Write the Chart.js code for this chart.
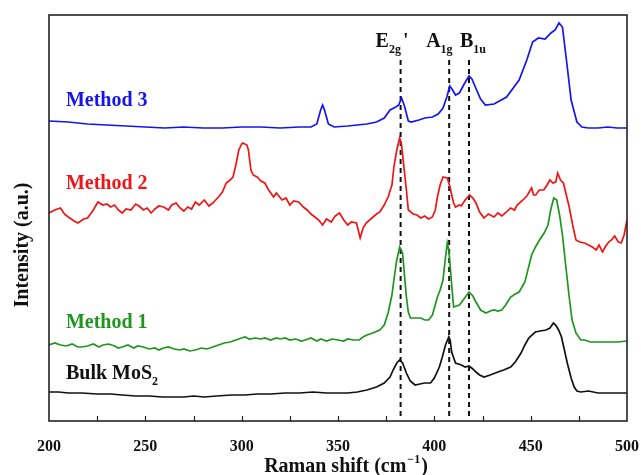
<!DOCTYPE html>
<html lang="en">
<head>
  <meta charset="UTF-8" />
  <title>Raman spectra</title>
  <script src="https://cdn.jsdelivr.net/npm/chart.js"></script>
  <style>
    body { margin: 0; background: #fff; }
    canvas { display: block; }
  </style>
</head>
<body>
  <canvas id="myChart" width="641" height="475"></canvas>

  <script>
    // Raman shift (cm-1) / intensity (a.u., offset stack)
    const bulkShift = [200,205,210,217,225,232,238,245,252,259,265,270,275,280.6,287,295,301.7,308,315,322.6,330,337,344,350,355,360,365,370,374,377,378.6,380.5,382,383.5,385.5,387.5,390,392.5,395,398,400,402.6,404,405.8,407.5,408.2,409,411,414,416,418,420,421.6,423.5,425.8,429,433,436,439.6,442,445,447,449,452.4,455,458,460,461.8,463,464.5,466,467.5,469,471,472.6,474,476,480,485,490,495,500];
    const bulkIntensity = [29,29,28,28,27,27,26,25,25,24,24,24,25,24,25,26,26,27,27,28,28,29,28,28,28,29,31,34,38,44,51,58,61,58,48,40,36,37,38,38,43,54,63,76,84,81,69,58,56,54,55,52,49,46,44,46,49,51,54,59,68,76,83,89,90,91,93,98,96,91,84,71,58,43,34,30,29,30,28,28,28,28];

    const m1Shift = [200,203,206,209,212,215,217,220,223,226,228,231,234,236,238,241,244,246,249,252,255,257,259.4,262,265,268,270,273,276,279,282,285,288,291,294,297,300,301.7,304,307,310,312,315,318,320,322.6,325,328,331,333,336,339,341,344,347,350,353,355,358,361,363,365,368,371.7,374,376,378,379,380.5,382,383.5,384.5,385.5,386.5,387.6,390,393,395,397,399,401.6,403,404.5,405.5,406.7,407.5,408.8,410,411.5,413,415,418,420,421.6,424,426.8,429,431,433,435,437,439.6,442,444,447,450.5,452.5,454.6,457,459,460.5,462,463.5,465,466.5,468,470,471.5,473.5,476,478,481,485,490,495,500];
    const m1Intensity = [76,78,76,75,77,74,74,75,77,74,76,77,75,73,74,76,73,75,74,72,73,71,73,74,72,71,72,70,71,73,72,74,76,78,79,81,83,84,82,83,82,83,81,83,82,83,81,82,80,81,83,80,82,80,82,81,80,82,81,81,84,86,88,91,96,108,126,141,161,174,168,146,124,109,103,103,103,101,101,106,124,131,141,159,178,171,141,114,115,116,121,129,125,119,111,108,110,111,110,111,116,124,127,129,139,166,174,181,188,196,212,223,221,206,186,159,124,101,88,81,81,79,79,79,79,80];

    const m2Shift = [200,203,206,208,210,213,215,218,220,223,225.4,228,230,232,234,236,238,240,242.5,245,246.7,249,251,253,255,257,259.5,262,263.7,266,268,270,272,274,276,278,280.6,283,285,287,288,290,292,294,295.5,297,298.5,300,300.6,302.7,303.5,304.8,306,308,310,312,314,316.6,318,321,323,325,327,329.6,332,334,336,338,340,342,344,346.5,348.5,350.8,353,355,357,359.6,361.5,363,364.6,367.6,370,371.7,374,376,378,379,380.5,382,383,384,385.5,386.5,389,391,393,395,397,399,400.5,401.6,403,404.5,406.7,408,408.8,410,411,413,414,416,418.3,420,421.6,423.5,425.8,428,431,433,435,437.5,439.5,441.6,443,446,448,450.5,451.5,452.6,454.5,456.8,458.5,460,461.5,463,464,465.5,467,468.5,470,471.8,473.5,475.5,478,480,482,484,485.5,487.3,489,490.5,492,493.6,495.5,497,498.5,500];
    const m2Intensity = [208,211,213,207,204,200,198,202,203,211,219,216,217,214,216,211,208,212,211,217,215,211,213,208,212,215,214,211,216,218,213,210,214,212,219,216,221,215,218,222,224,229,238,241,244,256,271,277,278,276,271,251,246,244,240,238,231,224,228,221,223,216,220,219,214,211,207,204,201,196,202,199,205,208,201,196,199,198,183,193,198,203,207,209,216,224,236,254,271,283,276,258,231,211,207,206,203,205,202,204,211,224,236,244,243,235,228,218,214,216,215,221,226,223,218,209,203,207,204,208,205,209,213,211,216,221,225,233,226,226,231,231,236,241,238,239,248,241,238,226,214,196,181,179,178,176,174,171,176,169,175,179,181,185,179,178,186,201];

    const m3Shift = [200,210,220,230,240,250,260,270,280,290,300,310,320,330,336,339,341,342,343,345,348,355,360,365,370,374,377,380,381.5,383,384.5,386.5,388,392,395,399,402,404.5,406.5,408,409.5,411,413,415.5,418,419.5,421.5,424,426.5,431,437.5,444,448,451,454,457.5,460.5,462.7,464.7,466.5,469,471,474,476.6,480,485,490,495,500];
    const m3Intensity = [300,299,297,296,295,294,293,294,293,293,294,294,293,294,294,297,311,316,311,297,294,295,296,297,299,303,311,314,316,323,315,300,299,301,303,304,307,313,324,335,331,326,328,337,345,342,333,322,316,317,324,341,361,379,383,382,388,391,398,394,354,321,299,294,293,293,294,293,293];

    const peakShift = [382.5, 407.7, 418];
    const peakNames = ['E', 'A', 'B'];
    const peakSubs = ['2g', '1g', '1u'];
    const seriesNames = ['Method 3', 'Method 2', 'Method 1', 'Bulk MoS'];
    const seriesColors = ['#1414f0', '#f01414', '#1e961e', '#111111'];
    const xTicks = [200, 250, 300, 350, 400, 450, 500];

    const serif = "'Liberation Serif', 'Times New Roman', serif";

    function pairs(xs, ys) {
      return xs.map((x, i) => ({ x: x, y: ys[i] }));
    }

    const spectra = [
      { data: pairs(m3Shift, m3Intensity), borderColor: seriesColors[0] },
      { data: pairs(m2Shift, m2Intensity), borderColor: seriesColors[1] },
      { data: pairs(m1Shift, m1Intensity), borderColor: seriesColors[2] },
      { data: pairs(bulkShift, bulkIntensity), borderColor: seriesColors[3] }
    ].map(d => Object.assign(d, { borderWidth: 1.7, pointRadius: 0, tension: 0, fill: false }));

    // vertical dashed lines at the peak positions
    const dashed = peakShift.map(p => ({
      data: [{ x: p, y: 5 }, { x: p, y: 363 }],
      borderColor: '#111',
      borderWidth: 2,
      borderDash: [5, 4],
      pointRadius: 0
    }));

    function drawSub(ctx, main, sub, x, y, size, prime) {
      ctx.font = 'bold ' + size + 'px ' + serif;
      ctx.fillText(main, x, y);
      let w = ctx.measureText(main).width;
      ctx.font = 'bold ' + Math.round(size * 0.6) + 'px ' + serif;
      ctx.fillText(sub, x + w, y + size * 0.32);
      let w2 = ctx.measureText(sub).width;
      if (prime) {
        ctx.font = 'bold ' + size + 'px ' + serif;
        ctx.fillText(prime, x + w + w2 + 2, y);
      }
    }

    const decor = {
      id: 'decor',
      afterDraw(chart) {
        const ctx = chart.ctx;
        const a = chart.chartArea;
        const xs = chart.scales.x, ys = chart.scales.y;
        ctx.save();

        // frame
        ctx.strokeStyle = '#222';
        ctx.lineWidth = 1.6;
        ctx.strokeRect(a.left, a.top, a.right - a.left, a.bottom - a.top);

        // inward ticks every 25
        ctx.lineWidth = 1.2;
        for (let v = 225; v < 500; v += 25) {
          const px = Math.round(xs.getPixelForValue(v)) + 0.5;
          ctx.beginPath();
          ctx.moveTo(px, a.bottom);
          ctx.lineTo(px, a.bottom - 5);
          ctx.stroke();
        }

        ctx.textBaseline = 'alphabetic';
        ctx.textAlign = 'left';

        // series labels
        const labelY = [321, 238, 99, 48];
        seriesNames.forEach((name, i) => {
          ctx.fillStyle = seriesColors[i];
          const x = xs.getPixelForValue(208.8);
          const y = ys.getPixelForValue(labelY[i]) + 6;
          if (i === 3) drawSub(ctx, name, '2', x, y, 20);
          else {
            ctx.font = 'bold 20px ' + serif;
            ctx.fillText(name, x, y);
          }
        });

        // peak labels
        ctx.fillStyle = '#111';
        const offs = [-25, -23, -9];
        peakShift.forEach((p, i) => {
          const x = xs.getPixelForValue(p) + offs[i];
          drawSub(ctx, peakNames[i], peakSubs[i], x, 47, 20, i === 0 ? "'" : null);
        });

        // y title
        ctx.save();
        ctx.translate(23, 245);
        ctx.rotate(-Math.PI / 2);
        ctx.textAlign = 'center';
        ctx.textBaseline = 'middle';
        ctx.font = 'bold 20px ' + serif;
        ctx.fillText('Intensity (a.u.)', 0, 0);
        ctx.restore();

        // x title with superscript
        ctx.font = 'bold 20px ' + serif;
        const t1 = 'Raman shift (cm', t3 = ')';
        const w1 = ctx.measureText(t1).width;
        ctx.font = 'bold 12px ' + serif;
        const w2 = ctx.measureText('\u22121').width;
        ctx.font = 'bold 20px ' + serif;
        const w3 = ctx.measureText(t3).width;
        let x0 = 345 - (w1 + w2 + w3) / 2;
        const yb = 472;
        ctx.fillText(t1, x0, yb);
        ctx.font = 'bold 12px ' + serif;
        ctx.fillText('\u22121', x0 + w1 + 1, yb - 9);
        ctx.font = 'bold 20px ' + serif;
        ctx.fillText(t3, x0 + w1 + w2 + 2, yb);

        ctx.restore();
      }
    };

    const ctx = document.getElementById('myChart').getContext('2d');
    const chart = new Chart(ctx, {
      type: 'line',
      data: { datasets: spectra.concat(dashed) },
      options: {
        responsive: false,
        animation: false,
        layout: { padding: { top: 15, right: 14, left: 0, bottom: 0 } },
        plugins: {
          legend: { display: false },
          tooltip: { enabled: false }
        },
        scales: {
          x: {
            type: 'linear',
            min: 200,
            max: 500,
            afterFit: s => { s.height = 54; s.paddingLeft = 0; s.paddingRight = 0; },
            afterBuildTicks: s => { s.ticks = xTicks.map(v => ({ value: v })); },
            grid: { display: false },
            border: { display: false },
            ticks: {
              color: '#111',
              padding: 8,
              maxRotation: 0,
              autoSkip: false,
              font: { family: serif, size: 16, weight: 'bold' }
            }
          },
          y: {
            min: 0,
            max: 406,
            afterFit: s => { s.width = 49; },
            grid: { display: false },
            border: { display: false },
            ticks: { display: false }
          }
        }
      },
      plugins: [decor]
    });
  </script>
</body>
</html>
